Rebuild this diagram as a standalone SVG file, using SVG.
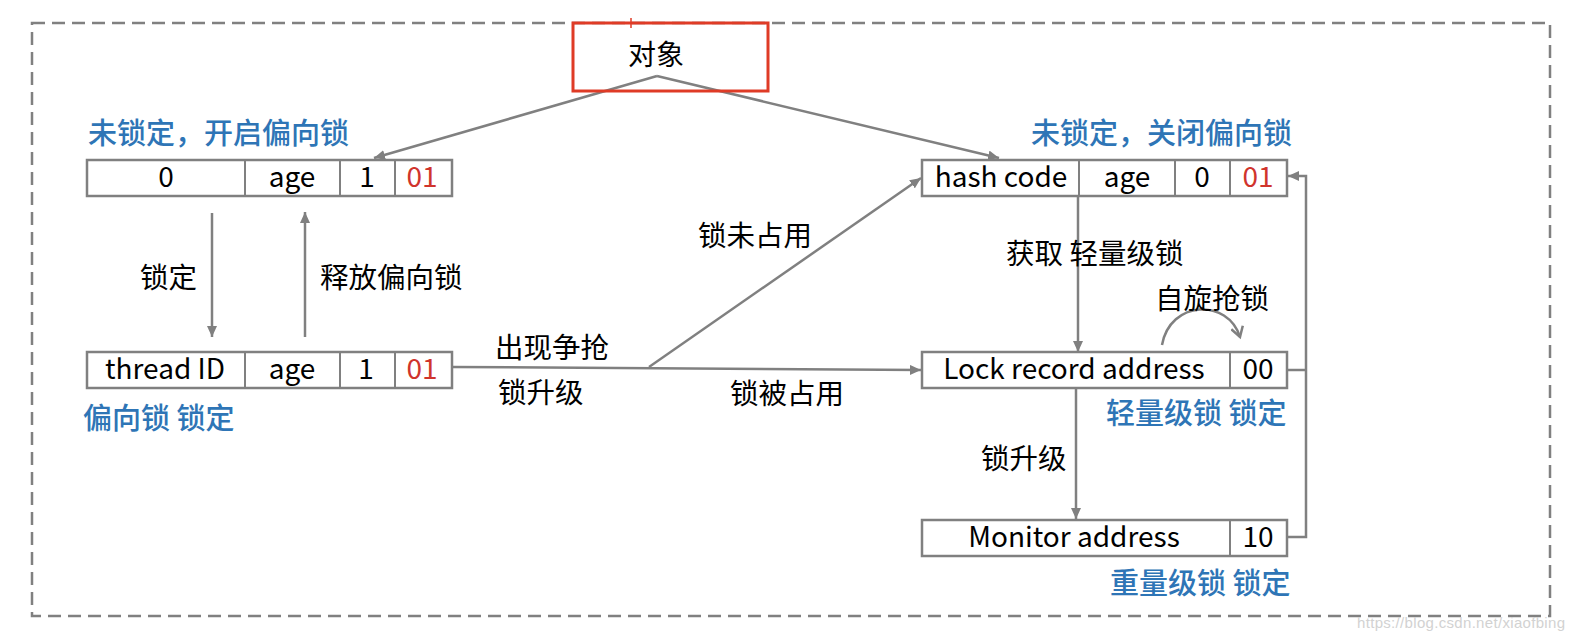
<svg xmlns="http://www.w3.org/2000/svg" width="1574" height="640" viewBox="0 0 1574 640">
<style>
.frame{fill:none;stroke:#808080;stroke-width:2.5;stroke-dasharray:13 7}
.cell{fill:#fff;stroke:#808080;stroke-width:2.5}
.div{stroke:#808080;stroke-width:2}
.bt{font-family:"Noto Sans CJK SC","Noto Sans",sans-serif;font-size:28px;fill:#000;text-anchor:middle}
.red{fill:#d0342c}
.lbl{font-family:"Noto Sans CJK SC",sans-serif;font-size:28.5px;fill:#000}
.blue{font-family:"Noto Sans CJK SC",sans-serif;font-size:29px;fill:#2e75b6;font-weight:500}
.con{fill:none;stroke:#808080;stroke-width:2.5}
</style>
<defs>
<marker id="ah" markerUnits="userSpaceOnUse" markerWidth="12" markerHeight="10" refX="11" refY="5" orient="auto">
<path d="M0,0 L11,5 L0,10 Z" fill="#808080"/>
</marker>
<marker id="chev" markerUnits="userSpaceOnUse" markerWidth="14" markerHeight="14" refX="11" refY="7" orient="auto">
<path d="M1,1 L11,7 L1,13" fill="none" stroke="#808080" stroke-width="2.5"/>
</marker>
</defs>
<rect width="1574" height="640" fill="#fff"/>
<rect class="frame" x="32" y="23" width="1518" height="593"/>

<g id="connectors">
<line class="con" x1="657" y1="76" x2="374" y2="158" marker-end="url(#ah)"/>
<line class="con" x1="657" y1="76" x2="999" y2="158" marker-end="url(#ah)"/>
<line class="con" x1="212" y1="213" x2="212" y2="337" marker-end="url(#ah)"/>
<line class="con" x1="305" y1="337" x2="305" y2="212" marker-end="url(#ah)"/>
<line class="con" x1="452" y1="367" x2="921" y2="370" marker-end="url(#ah)"/>
<line class="con" x1="649" y1="367" x2="921" y2="178" marker-end="url(#ah)"/>
<line class="con" x1="1078" y1="196" x2="1078" y2="352" marker-end="url(#ah)"/>
<line class="con" x1="1076" y1="388" x2="1076" y2="519" marker-end="url(#ah)"/>
<polyline class="con" points="1287,537 1306,537 1306,176 1288,176" marker-end="url(#ah)"/>
<line class="con" x1="1287" y1="370" x2="1306" y2="370"/>
<path class="con" d="M1162,345 C1170,300 1228,298 1240,337" marker-end="url(#chev)"/>
</g>

<g id="object">
<rect x="573" y="23" width="195" height="68" fill="none" stroke="#df3b26" stroke-width="3"/>
<line x1="631" y1="18" x2="631" y2="28" stroke="#df3b26" stroke-width="1.5"/>
<text class="bt" x="656" y="65" font-size="27">对象</text>
</g>

<g id="unlocked-biased">
<text class="blue" x="88" y="144">未锁定，开启偏向锁</text>
<rect class="cell" x="87" y="160" width="365" height="36"/>
<line class="div" x1="245" y1="160" x2="245" y2="196"/>
<line class="div" x1="340" y1="160" x2="340" y2="196"/>
<line class="div" x1="395" y1="160" x2="395" y2="196"/>
<text class="bt" x="166" y="187">0</text>
<text class="bt" x="292" y="187">age</text>
<text class="bt" x="367" y="187">1</text>
<text class="bt red" x="422" y="187">01</text>
</g>

<g id="unlocked-nonbiased">
<text class="blue" x="1031" y="144">未锁定，关闭偏向锁</text>
<rect class="cell" x="922" y="160" width="365" height="36"/>
<line class="div" x1="1079" y1="160" x2="1079" y2="196"/>
<line class="div" x1="1175" y1="160" x2="1175" y2="196"/>
<line class="div" x1="1230" y1="160" x2="1230" y2="196"/>
<text class="bt" x="1001" y="187">hash code</text>
<text class="bt" x="1127" y="187">age</text>
<text class="bt" x="1202" y="187">0</text>
<text class="bt red" x="1258" y="187">01</text>
</g>

<g id="biased-locked">
<rect class="cell" x="87" y="352" width="365" height="36"/>
<line class="div" x1="245" y1="352" x2="245" y2="388"/>
<line class="div" x1="340" y1="352" x2="340" y2="388"/>
<line class="div" x1="395" y1="352" x2="395" y2="388"/>
<text class="bt" x="165" y="379">thread ID</text>
<text class="bt" x="292" y="379">age</text>
<text class="bt" x="366" y="379">1</text>
<text class="bt red" x="422" y="379">01</text>
<text class="blue" x="83" y="429">偏向锁 锁定</text>
</g>

<g id="lightweight-locked">
<rect class="cell" x="922" y="352" width="365" height="36"/>
<line class="div" x1="1230" y1="352" x2="1230" y2="388"/>
<text class="bt" x="1074" y="379">Lock record address</text>
<text class="bt" x="1258" y="379">00</text>
<text class="blue" x="1106" y="424">轻量级锁 锁定</text>
</g>

<g id="heavyweight-locked">
<rect class="cell" x="922" y="520" width="365" height="36"/>
<line class="div" x1="1230" y1="520" x2="1230" y2="556"/>
<text class="bt" x="1074" y="547">Monitor address</text>
<text class="bt" x="1258" y="547">10</text>
<text class="blue" x="1110" y="594">重量级锁 锁定</text>
</g>

<g id="labels">
<text class="lbl" x="140" y="288">锁定</text>
<text class="lbl" x="320" y="288">释放偏向锁</text>
<text class="lbl" x="495" y="358">出现争抢</text>
<text class="lbl" x="498" y="403">锁升级</text>
<text class="lbl" x="730" y="404">锁被占用</text>
<text class="lbl" x="698" y="246">锁未占用</text>
<text class="lbl" x="1006" y="264">获取 轻量级锁</text>
<text class="lbl" x="1155" y="309">自旋抢锁</text>
<text class="lbl" x="981" y="469">锁升级</text>
</g>

<text x="1357" y="628" font-family="Liberation Sans, sans-serif" font-size="15" fill="#d2d2d2" textLength="208">https://blog.csdn.net/xiaofbing</text>
</svg>
